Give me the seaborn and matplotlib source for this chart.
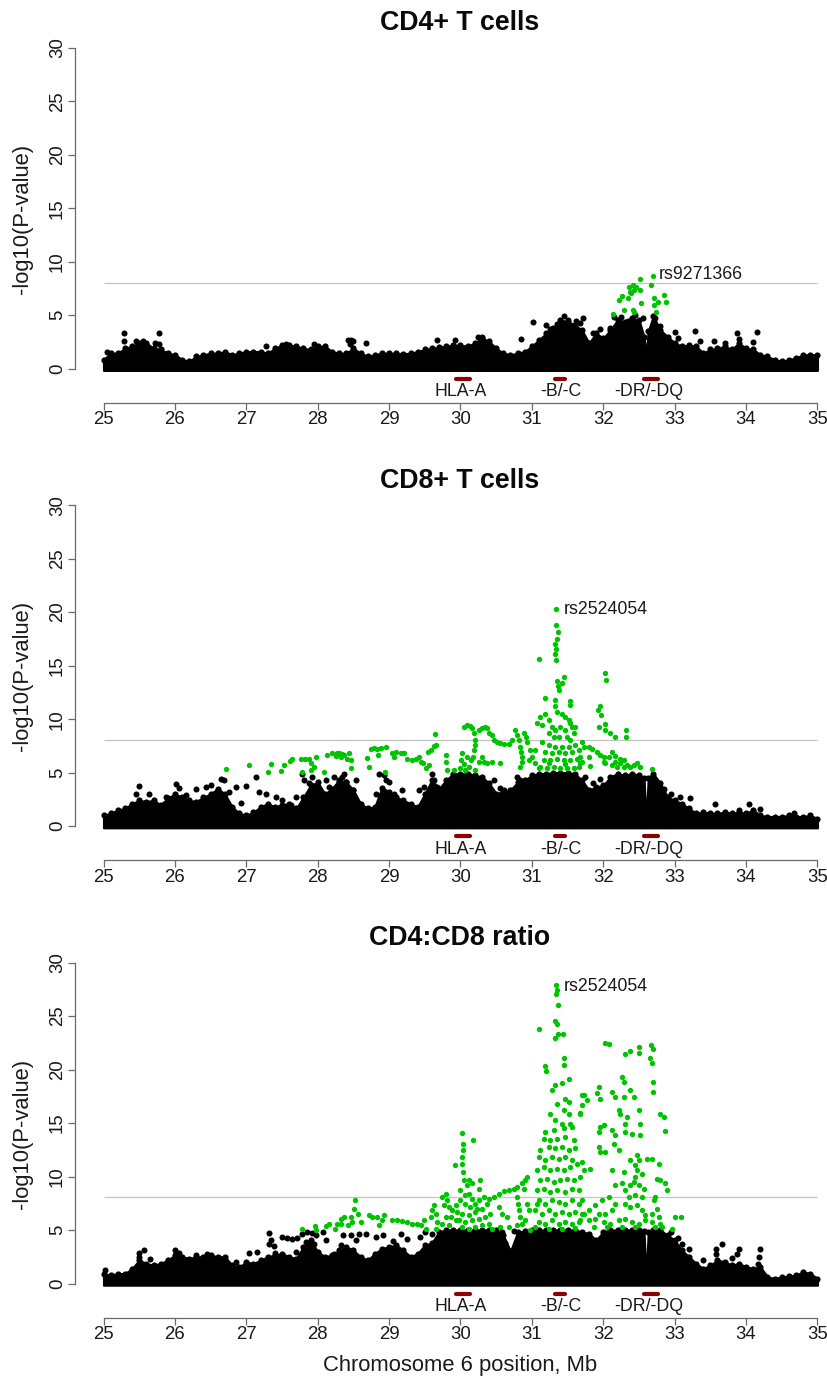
import matplotlib
matplotlib.use('Agg')
import matplotlib.pyplot as plt
import seaborn as sns

# --- data ------------------------------------------------------------------
panel_titles = ["CD4+ T cells", "CD8+ T cells", "CD4:CD8 ratio"]
x_ticks = [25, 26, 27, 28, 29, 30, 31, 32, 33, 34, 35]
y_ticks = [0, 5, 10, 15, 20, 25, 30]
threshold = 8.05

gene_names = ["HLA-A", "-B/-C", "-DR/-DQ"]
gene_start = [29.93, 31.32, 32.57]
gene_end = [30.13, 31.46, 32.77]
gene_label_x = [30.0, 31.40, 32.64]

top_snp = ["rs9271366", "rs2524054", "rs2524054"]
top_snp_x = [32.78, 31.44, 31.44]
top_snp_y = [8.85, 20.2, 27.8]

# upper edge of the dense black band of SNPs (Mb, -log10 P)
env_x = [25.0, 25.1, 25.2, 25.3, 25.4, 25.5, 25.6, 25.7, 25.8, 25.9,
         26.0, 26.1, 26.2, 26.3, 26.4, 26.5, 26.6, 26.7, 26.8, 26.9,
         27.0, 27.1, 27.2, 27.3, 27.4, 27.5, 27.6, 27.7, 27.8, 27.9,
         28.0, 28.1, 28.2, 28.3, 28.4, 28.5, 28.6, 28.7, 28.8, 28.9,
         29.0, 29.1, 29.2, 29.3, 29.4, 29.5, 29.6, 29.7, 29.8, 29.9,
         30.0, 30.1, 30.2, 30.3, 30.4, 30.5, 30.6, 30.7, 30.8, 30.9,
         31.0, 31.1, 31.2, 31.3, 31.4, 31.5, 31.6, 31.7, 31.8, 31.9,
         32.0, 32.1, 32.2, 32.3, 32.4, 32.5, 32.57, 32.6, 32.63, 32.7,
         32.8, 32.9, 33.0, 33.1, 33.2, 33.3, 33.4, 33.5, 33.6, 33.7,
         33.8, 33.9, 34.0, 34.1, 34.2, 34.3, 34.4, 34.5, 34.6, 34.7,
         34.8, 34.9, 35.0]

env_cd4 = [0.85, 1.45, 1.45, 1.9, 2.1, 2.4, 2.4, 1.9, 1.8, 1.45,
           1.3, 0.85, 0.7, 1.15, 1.3, 1.45, 1.45, 1.6, 1.3, 1.45,
           1.6, 1.6, 1.6, 1.45, 1.9, 2.2, 2.2, 2.1, 1.9, 1.8,
           2.1, 2.1, 1.6, 1.45, 1.45, 1.9, 1.45, 1.15, 1.3, 1.45,
           1.45, 1.45, 1.4, 1.45, 1.6, 1.8, 1.9, 2.0, 2.1, 2.2,
           2.2, 2.1, 2.4, 2.85, 2.55, 1.9, 1.45, 1.3, 1.45, 1.6,
           2.1, 2.7, 3.3, 3.8, 4.55, 4.4, 4.1, 3.6, 2.4, 3.3,
           2.85, 3.6, 4.55, 4.4, 4.7, 4.55, 3.0, 1.2, 3.5, 4.9,
           3.6, 3.0, 2.4, 2.1, 2.2, 2.1, 1.45, 1.8, 1.9, 2.1,
           1.8, 2.4, 1.9, 1.8, 1.3, 1.15, 0.85, 0.7, 0.85, 1.0,
           1.3, 1.3, 1.3]

env_cd8 = [1.0, 1.2, 1.5, 1.65, 2.1, 2.4, 2.3, 2.4, 2.0, 2.6,
           3.0, 2.7, 2.4, 2.3, 2.7, 3.0, 3.5, 3.0, 1.8, 1.2,
           1.0, 1.3, 1.8, 2.1, 1.8, 2.0, 2.1, 1.65, 2.7, 3.8,
           4.1, 3.0, 3.5, 4.3, 4.1, 3.35, 2.1, 1.65, 1.8, 3.6,
           3.2, 2.7, 2.4, 2.1, 1.8, 3.0, 4.3, 3.5, 4.3, 4.9,
           4.9, 4.9, 4.75, 4.6, 4.0, 3.05, 3.2, 3.35, 4.1, 4.3,
           4.75, 4.9, 4.9, 5.0, 5.0, 5.0, 4.9, 4.3, 3.35, 3.65,
           3.8, 4.6, 4.9, 4.75, 4.9, 4.75, 4.5, 0.3, 4.5, 4.9,
           4.0, 2.7, 2.4, 2.1, 1.65, 1.2, 1.3, 1.2, 1.2, 1.3,
           1.2, 1.3, 1.2, 1.5, 1.0, 0.9, 0.9, 0.9, 1.0, 0.9,
           0.9, 1.0, 0.7]

env_ratio = [0.93, 0.78, 0.93, 0.93, 1.4, 2.18, 1.87, 1.71, 1.87, 2.18,
             2.65, 2.5, 2.34, 2.5, 2.5, 2.65, 2.5, 2.5, 1.71, 1.56,
             2.0, 1.87, 2.18, 2.5, 2.65, 2.8, 2.5, 2.34, 3.43, 4.05,
             2.96, 2.5, 2.65, 3.1, 3.43, 3.1, 2.5, 2.18, 2.8, 3.27,
             3.43, 3.58, 3.1, 2.5, 2.8, 3.58, 3.8, 4.83, 5.0, 5.0,
             5.0, 5.0, 5.0, 5.0, 5.0, 5.0, 4.5, 3.0, 4.8, 4.9,
             5.0, 5.0, 5.0, 5.0, 5.0, 5.0, 5.0, 4.83, 4.67, 4.05,
             4.83, 5.0, 5.0, 5.0, 5.0, 5.0, 4.9, 0.3, 4.8, 5.0,
             5.0, 4.5, 4.05, 3.1, 2.5, 1.87, 1.4, 1.71, 2.18, 2.02,
             1.71, 1.87, 1.56, 1.4, 1.56, 0.62, 0.47, 0.62, 0.69, 0.78,
             1.09, 0.93, 0.47]

# scattered black SNPs above the dense band
black_cd4 = [(25.05, 1.6), (25.29, 3.3), (25.29, 2.6), (25.45, 2.6), (25.55, 2.6),
             (25.72, 2.4), (25.78, 3.3), (25.78, 2.3), (27.28, 2.1), (27.55, 2.3),
             (27.95, 2.3), (28.43, 2.7), (28.47, 2.7), (28.5, 2.55), (28.45, 2.3),
             (28.68, 2.4), (29.67, 2.7), (29.92, 2.7), (30.25, 3.0), (30.3, 3.0),
             (30.85, 2.75), (31.01, 4.4), (31.2, 4.1), (31.25, 3.7), (31.35, 4.2),
             (31.45, 4.9), (31.5, 4.6), (31.62, 4.5), (31.71, 4.7), (31.68, 4.3),
             (31.85, 3.3), (31.95, 3.7), (32.1, 3.8), (32.15, 4.8), (32.25, 4.8),
             (32.35, 4.5), (32.45, 5.0), (32.55, 4.7), (32.72, 4.7), (32.8, 4.0),
             (33.0, 3.4), (33.05, 2.9), (33.28, 3.5), (33.35, 2.6), (33.55, 2.6),
             (33.7, 2.4), (33.88, 3.3), (33.9, 2.8), (34.15, 3.4), (34.1, 2.5)]

black_cd8 = [(25.49, 3.74), (25.45, 3.0), (25.63, 3.05), (25.87, 2.74), (26.01, 3.93),
             (26.05, 3.6), (26.15, 2.9), (26.29, 3.43), (26.43, 3.68), (26.5, 3.83),
             (26.55, 3.05), (26.64, 4.45), (26.69, 4.3), (26.76, 3.21), (26.85, 3.68),
             (26.92, 2.12), (26.99, 3.74), (27.13, 4.61), (27.18, 3.21), (27.27, 3.05),
             (27.41, 2.74), (27.5, 2.43), (27.62, 1.96), (27.69, 2.74), (27.78, 4.92),
             (27.81, 4.3), (27.88, 3.99), (27.92, 4.61), (27.95, 3.52), (28.11, 4.3),
             (28.16, 3.68), (28.23, 4.61), (28.3, 4.14), (28.37, 4.92), (28.34, 4.61),
             (28.39, 4.14), (28.53, 4.3), (28.5, 3.36), (28.81, 3.05), (28.86, 4.92),
             (28.93, 4.77), (28.95, 4.3), (29.0, 4.14), (29.07, 3.05), (29.18, 3.36),
             (29.42, 3.36), (29.49, 3.68), (29.58, 3.68), (29.6, 4.92), (29.63, 4.3),
             (29.67, 3.68), (30.47, 4.3), (30.55, 3.6), (30.61, 3.36), (30.72, 3.36),
             (30.79, 4.61), (30.84, 4.3), (30.86, 3.68), (31.75, 4.6), (31.85, 4.0),
             (31.95, 4.4), (32.85, 3.5), (32.95, 3.0), (33.08, 2.75), (33.22, 2.6),
             (33.41, 1.1), (33.57, 2.05), (33.9, 1.5), (34.04, 2.1), (34.2, 1.6),
             (34.67, 1.2)]

black_ratio = [(25.02, 1.3), (25.5, 2.5), (25.5, 2.9), (25.57, 3.18), (25.65, 2.3),
               (26.0, 3.18), (26.05, 2.9), (26.3, 2.65), (26.45, 2.8), (26.85, 2.0),
               (27.04, 2.87), (27.15, 2.96), (27.32, 4.73), (27.35, 4.11), (27.32, 3.74),
               (27.39, 3.49), (27.4, 2.87), (27.5, 4.36), (27.57, 4.3), (27.64, 4.2),
               (27.71, 4.3), (27.69, 2.96), (27.78, 4.67), (27.85, 4.83), (27.92, 4.73),
               (27.97, 4.52), (27.83, 3.9), (27.95, 3.74), (28.07, 4.83), (28.11, 4.05),
               (28.23, 2.8), (28.33, 3.58), (28.35, 4.52), (28.47, 4.52), (28.54, 4.05),
               (28.58, 4.67), (28.68, 4.61), (28.82, 4.36), (28.91, 4.52), (29.17, 4.67),
               (29.05, 4.0), (29.25, 4.2), (29.43, 4.36), (29.5, 4.8), (29.6, 4.6),
               (30.58, 4.8), (30.62, 3.8), (30.75, 4.9), (32.95, 4.8), (33.05, 4.3),
               (33.1, 3.7), (33.2, 3.2), (33.58, 3.27), (33.58, 2.8), (33.67, 3.74),
               (33.9, 3.27), (33.88, 2.8), (34.2, 3.27), (34.18, 2.5), (34.17, 1.87),
               (33.4, 2.2), (33.8, 2.4)]

# green SNPs (P < 1e-5)
green_cd4 = [(32.13, 5.12), (32.29, 5.5), (32.42, 5.5), (32.22, 6.4), (32.34, 6.6),
             (32.39, 7.05), (32.43, 7.36), (32.36, 7.6), (32.41, 7.8), (32.38, 7.2),
             (32.46, 7.6), (32.52, 7.36), (32.51, 8.35), (32.53, 6.1), (32.67, 7.8),
             (32.70, 8.7), (32.71, 6.6), (32.71, 5.96), (32.76, 6.27), (32.85, 6.9),
             (32.88, 6.2), (32.74, 5.34), (32.43, 5.34), (32.26, 6.8)]

green_cd8 = [(26.71, 5.30), (27.04, 5.76), (27.34, 5.79), (27.31, 5.02), (27.49, 5.11),
             (27.53, 5.70), (27.61, 6.07), (27.64, 6.32), (27.76, 6.32), (27.82, 6.23),
             (27.88, 6.32), (27.97, 6.48), (27.91, 5.86), (27.95, 5.55), (27.90, 5.23),
             (27.78, 5.08), (28.09, 5.08), (28.13, 6.64), (28.20, 6.79), (28.27, 6.79),
             (28.34, 6.73), (28.32, 6.48), (28.25, 6.54), (28.30, 6.85), (28.37, 6.64),
             (28.44, 6.85), (28.46, 6.17), (28.47, 5.48), (28.41, 6.3), (28.69, 6.39),
             (28.74, 7.17), (28.79, 7.26), (28.83, 7.17), (28.88, 7.26), (28.95, 7.35),
             (28.85, 6.64), (28.72, 5.55), (28.94, 5.08), (29.04, 6.85), (29.09, 6.95),
             (29.16, 6.85), (29.21, 6.79), (29.07, 6.42), (29.25, 6.26), (29.32, 6.17),
             (29.37, 6.23), (29.42, 6.48), (29.44, 6.01), (29.47, 5.86), (29.51, 5.39),
             (29.56, 5.70), (29.55, 6.95), (29.59, 7.1), (29.63, 7.48), (29.65, 7.57),
             (29.64, 8.6), (29.80, 6.64), (29.80, 6.01), (29.81, 5.23), (29.91, 5.23),
             (30.02, 6.79), (30.01, 6.17), (30.05, 5.79), (30.09, 6.48), (29.99, 5.39),
             (30.07, 5.23), (30.12, 5.55), (30.15, 6.17), (30.21, 5.23), (30.26, 6.01),
             (30.30, 6.48), (30.33, 6.01), (30.37, 5.86), (30.44, 6.01), (30.55, 5.86),
             (30.05, 9.28), (30.09, 9.44), (30.14, 9.35), (30.16, 9.13), (30.19, 8.66),
             (30.21, 8.04), (30.20, 7.57), (30.19, 7.1), (30.17, 6.48), (30.26, 8.97),
             (30.30, 9.13), (30.35, 9.28), (30.37, 9.13), (30.40, 8.66), (30.44, 8.5),
             (30.47, 8.04), (30.51, 7.88), (30.56, 7.79), (30.61, 7.66), (30.68, 7.66),
             (30.72, 8.04), (30.76, 8.97), (30.79, 8.5), (30.82, 8.04), (30.84, 7.41),
             (30.85, 6.95), (30.86, 6.48), (30.86, 6.01), (30.84, 5.55), (30.89, 8.66),
             (30.92, 8.35), (30.93, 7.88), (30.98, 7.1), (31.00, 6.48), (31.04, 7.1),
             (30.96, 6.17), (31.05, 5.86), (31.1, 5.39),
             (31.34, 20.25), (31.34, 18.8), (31.37, 18.16), (31.35, 17.5), (31.33, 16.98),
             (31.34, 16.57), (31.33, 16.1), (31.34, 15.5), (31.10, 15.6), (31.35, 13.6),
             (31.45, 13.9), (31.42, 13.4), (31.37, 13.1), (31.38, 12.7), (31.19, 12.0),
             (31.33, 11.8), (31.53, 11.7), (31.54, 11.3), (31.12, 10.2), (31.19, 10.5),
             (31.33, 11.2), (31.35, 10.7), (31.42, 10.5), (31.47, 10.2), (31.52, 9.9),
             (31.54, 9.6), (31.56, 9.3), (31.59, 8.66), (31.07, 9.6), (31.14, 9.44),
             (31.24, 9.9), (31.28, 9.28), (31.33, 8.97), (31.40, 9.28), (31.47, 8.97),
             (31.24, 8.66), (31.31, 8.35), (31.38, 8.35), (31.49, 8.35), (31.54, 8.04),
             (31.14, 7.88), (31.24, 7.57), (31.33, 7.41), (31.42, 7.41), (31.52, 7.41),
             (31.61, 7.57), (31.19, 6.95), (31.28, 6.79), (31.38, 6.95), (31.47, 6.79),
             (31.56, 6.95), (31.66, 7.1), (31.73, 7.41), (31.17, 6.17), (31.26, 6.17),
             (31.35, 6.32), (31.45, 6.17), (31.54, 6.17), (31.63, 6.32), (31.12, 5.55),
             (31.21, 5.39), (31.31, 5.55), (31.40, 5.39), (31.49, 5.48), (31.59, 5.39),
             (31.68, 5.86), (31.24, 5.86), (31.47, 5.79),
             (32.02, 14.33), (32.04, 13.7), (31.95, 11.2), (31.93, 10.9), (31.97, 10.4),
             (31.94, 9.28), (32.02, 9.53), (32.02, 8.97), (32.10, 8.66), (32.17, 8.29),
             (32.32, 8.97), (32.32, 8.29), (31.61, 9.28), (31.70, 7.88), (31.80, 7.41),
             (31.84, 7.17), (31.91, 6.95), (31.96, 6.64), (32.01, 6.48), (32.08, 6.48),
             (32.12, 6.95), (32.17, 6.54), (32.24, 6.32), (32.29, 6.17), (31.68, 6.48),
             (31.70, 6.01), (31.66, 5.55), (31.82, 5.61), (31.80, 6.48), (32.01, 6.01),
             (32.03, 5.86), (32.12, 5.70), (32.19, 5.55), (32.29, 5.55), (32.38, 5.55),
             (32.47, 5.86), (32.52, 5.55), (32.43, 5.70), (32.68, 5.30), (32.17, 6.01),
             (32.24, 5.86), (32.33, 5.70)]

green_ratio = [(27.78, 5.14), (27.96, 5.39), (27.97, 5.05), (28.12, 5.39), (28.16, 5.55),
               (28.24, 5.14), (28.27, 5.55), (28.32, 6.07), (28.37, 6.23), (28.56, 6.54),
               (28.61, 5.76), (28.42, 5.45),
               (28.32, 5.61), (28.46, 6.23), (28.51, 7.0), (28.52, 7.79), (28.48, 5.76),
               (28.72, 6.39), (28.76, 6.23), (28.83, 6.23), (28.93, 6.39), (28.90, 5.92),
               (28.86, 5.45), (29.04, 5.92), (29.11, 5.92), (29.18, 5.86), (29.25, 5.76),
               (29.32, 5.61), (29.39, 5.55), (29.45, 5.45), (29.49, 5.92), (29.51, 5.14),
               (29.58, 6.23), (29.60, 6.85), (29.63, 7.32), (29.65, 6.54), (29.67, 5.76),
               (29.65, 5.14), (29.74, 8.1), (29.79, 8.41), (29.81, 7.79), (29.77, 7.32),
               (29.84, 7.17), (29.88, 6.85), (29.86, 6.23), (29.79, 6.23), (29.74, 5.61),
               (29.84, 5.45), (29.93, 5.92), (29.92, 11.06), (30.02, 14.08), (30.04, 13.08),
               (30.03, 12.46), (30.02, 11.84), (30.02, 11.21), (30.03, 10.44), (30.17, 13.46),
               (30.05, 9.66), (30.12, 9.66), (30.09, 9.19), (30.16, 9.35), (30.28, 9.66),
               (30.26, 8.88), (30.0, 8.72), (30.07, 8.26), (30.12, 8.41), (30.16, 7.94),
               (30.0, 7.79), (30.07, 7.48), (30.14, 7.17), (30.21, 7.48), (30.26, 7.79),
               (30.33, 8.1), (29.93, 7.32), (29.95, 6.7), (30.02, 6.54), (30.12, 6.39),
               (30.21, 6.7), (30.30, 7.0), (30.37, 7.48), (30.40, 7.94), (29.98, 5.92),
               (30.07, 5.76), (30.16, 5.92), (30.26, 6.07), (30.35, 6.23), (30.42, 6.54),
               (30.02, 5.3), (30.12, 5.14), (30.21, 5.3), (30.30, 5.45), (30.40, 5.61),
               (30.44, 5.14), (30.23, 7.0), (30.47, 8.1), (30.54, 8.41), (30.61, 8.66),
               (30.68, 8.72), (30.75, 8.88), (30.79, 9.03), (30.86, 9.35), (30.91, 9.66),
               (30.93, 9.97), (30.89, 8.8), (30.54, 7.17), (30.58, 6.54), (30.56, 5.3),
               (30.65, 6.23), (30.68, 5.3), (30.79, 8.1), (30.81, 7.48), (30.82, 6.85),
               (30.84, 6.23), (30.86, 5.61), (30.79, 5.45), (30.93, 7.48), (30.96, 6.85),
               (30.9, 5.92), (30.98, 5.0), (31.05, 6.85), (31.07, 7.48),
               (31.34, 27.88), (31.35, 27.41), (31.34, 27.1), (31.37, 26.0), (31.33, 24.55),
               (31.35, 24.24), (31.37, 23.36), (31.33, 22.99), (31.43, 23.3), (31.10, 23.77),
               (31.45, 21.03), (31.45, 20.4), (31.19, 20.31), (31.2, 19.88), (31.52, 19.16),
               (31.33, 18.54), (31.42, 18.75), (31.28, 18.07), (31.70, 17.6), (31.47, 17.29),
               (31.52, 16.98), (31.35, 16.76), (31.45, 16.2), (31.26, 15.89), (31.52, 15.89),
               (31.68, 15.95), (31.33, 15.26), (31.54, 14.95), (31.42, 14.95), (31.19, 14.17),
               (31.31, 14.33), (31.45, 14.49), (31.56, 14.64), (31.17, 13.55), (31.26, 13.4),
               (31.35, 13.55), (31.47, 13.71), (31.59, 13.4), (31.12, 12.46), (31.24, 12.77),
               (31.33, 12.62), (31.42, 12.77), (31.52, 12.46), (31.61, 12.62), (31.1, 11.84),
               (31.19, 11.53), (31.28, 11.84), (31.38, 11.68), (31.47, 11.84), (31.56, 11.53),
               (31.63, 11.21), (31.07, 10.59), (31.17, 10.9), (31.26, 10.59), (31.35, 10.75),
               (31.45, 10.59), (31.54, 10.9), (31.12, 9.66), (31.21, 9.81), (31.31, 9.5),
               (31.40, 9.66), (31.49, 9.81), (31.59, 9.66), (31.68, 9.97), (31.07, 8.72),
               (31.17, 8.88), (31.26, 8.57), (31.35, 8.72), (31.47, 8.57), (31.56, 8.88),
               (31.66, 8.72), (31.1, 7.79), (31.19, 7.48), (31.28, 7.79), (31.38, 7.63),
               (31.47, 7.48), (31.56, 7.79), (31.70, 7.79), (31.14, 6.54), (31.24, 6.85),
               (31.33, 6.54), (31.42, 6.7), (31.52, 6.54), (31.61, 6.7), (31.73, 6.54),
               (31.1, 5.76), (31.19, 5.61), (31.28, 5.92), (31.38, 5.61), (31.47, 5.76),
               (31.56, 5.61), (31.66, 5.76), (31.05, 5.3), (31.24, 5.14), (31.42, 5.14),
               (31.61, 5.23),
               (32.03, 22.49), (32.08, 22.37), (32.31, 21.43), (32.38, 21.74), (32.50, 22.06),
               (32.50, 21.56), (32.67, 22.27), (32.69, 21.96), (32.66, 21.03), (32.68, 20.62),
               (32.26, 19.31), (32.29, 18.85), (32.69, 18.85), (32.69, 17.91), (31.94, 18.38),
               (31.91, 17.76), (31.96, 17.29), (32.12, 17.91), (32.17, 17.45), (32.29, 17.45),
               (32.38, 18.07), (32.43, 17.45), (31.73, 17.6), (31.70, 16.67), (31.77, 17.13),
               (31.68, 15.89), (32.22, 16.26), (32.24, 15.89), (32.33, 15.58), (32.50, 16.26),
               (32.31, 14.95), (32.52, 14.95), (32.80, 15.83), (32.85, 15.58), (32.86, 14.27),
               (31.96, 14.64), (32.01, 14.8), (31.94, 14.17), (32.12, 14.33), (32.17, 13.86),
               (32.31, 14.17), (32.40, 14.0), (32.52, 13.86), (31.94, 12.77), (31.96, 12.31),
               (32.03, 12.31), (32.15, 13.08), (32.22, 12.46), (32.47, 11.99), (32.50, 11.53),
               (32.38, 11.53), (32.45, 11.06), (32.61, 11.68), (32.68, 11.68), (32.78, 11.21),
               (31.70, 11.37), (31.82, 10.75), (31.73, 10.59), (32.12, 10.65), (32.29, 10.44),
               (32.47, 10.59), (32.45, 9.97), (32.54, 10.28), (32.75, 9.81), (32.80, 9.66),
               (32.87, 9.35), (32.89, 8.72), (32.17, 9.19), (32.26, 9.35), (32.31, 8.72),
               (32.38, 9.19), (32.43, 9.5), (32.50, 9.19), (32.57, 8.88), (32.36, 8.1),
               (32.45, 8.26), (32.54, 8.1), (32.73, 8.1), (32.71, 7.79), (32.08, 8.1),
               (31.98, 7.79), (31.89, 7.32), (32.31, 7.48), (32.38, 7.17), (32.47, 7.32),
               (32.54, 6.85), (32.59, 6.39), (32.68, 6.54), (32.75, 7.0), (32.78, 6.23),
               (32.17, 7.48), (32.12, 6.85), (32.03, 6.54), (31.94, 6.54), (31.80, 6.85),
               (31.70, 6.54), (31.66, 7.48), (31.68, 5.92), (31.80, 5.92), (31.89, 6.07),
               (32.01, 5.76), (32.10, 5.61), (32.22, 5.92), (32.31, 6.07), (32.40, 5.76),
               (32.50, 5.61), (32.59, 5.92), (32.68, 5.76), (32.80, 5.61), (32.82, 5.3),
               (32.73, 5.3), (31.87, 5.3), (32.05, 5.3), (32.26, 5.3), (32.45, 5.3),
               (33.01, 6.23), (33.09, 6.23), (32.96, 5.14)]

envelopes = [env_cd4, env_cd8, env_ratio]
black_pts = [black_cd4, black_cd8, black_ratio]
green_pts = [green_cd4, green_cd8, green_ratio]

# --- layout (pixel geometry of the original page) --------------------------
W, H = 828, 1379
sns.set_style("white")
plt.rcParams['font.family'] = ['Liberation Sans', 'DejaVu Sans']

fig = plt.figure(figsize=(W / 100, H / 100), dpi=100)

axis_grey = '#6a6a6a'
black = '#000000'
green = '#00c400'
dark_red = '#8b0000'

for i in range(3):
    base = 403 + 457.4 * i          # pixel row of the x axis line
    ax = fig.add_axes([75 / W, 1 - base / H, 771 / W, 366 / H])
    ax.set_xlim(24.6, 35.4)
    ax.set_ylim(-3.2, 31.0)

    # dense band of SNPs, with a dot at every sampled edge point
    env = envelopes[i]
    ax.fill_between(env_x, -0.15, env, facecolor=black,
                    edgecolor=black, linewidth=1.6, joinstyle='round', zorder=2)
    sns.scatterplot(x=env_x, y=env, ax=ax, color=black, s=20, linewidth=0, zorder=3)
    bx = [p[0] for p in black_pts[i]]
    by = [p[1] for p in black_pts[i]]
    sns.scatterplot(x=bx, y=by, ax=ax, color=black, s=19, linewidth=0, zorder=3)
    gx = [p[0] for p in green_pts[i]]
    gy = [p[1] for p in green_pts[i]]
    sns.scatterplot(x=gx, y=gy, ax=ax, color=green, s=15, linewidth=0, zorder=4)

    ax.hlines(threshold, 25, 35, color='#c4c4c4', linewidth=0.9, zorder=1)

    for name, g0, g1, gl in zip(gene_names, gene_start, gene_end, gene_label_x):
        ax.plot([g0, g1], [-0.96, -0.96], color=dark_red, linewidth=3.0,
                solid_capstyle='round', zorder=3)
        ax.text(gl, -2.15, name, ha='center', va='center', fontsize=12.8,
                color='#1a1a1a')

    ax.text(top_snp_x[i], top_snp_y[i], top_snp[i], ha='left', va='center',
            fontsize=12.8, color='#1a1a1a')

    for side in ['top', 'right']:
        ax.spines[side].set_visible(False)
    ax.spines['left'].set_bounds(0, 30)
    ax.spines['bottom'].set_bounds(25, 35)
    for side in ['left', 'bottom']:
        ax.spines[side].set_color(axis_grey)
        ax.spines[side].set_linewidth(0.9)

    ax.set_xticks(x_ticks)
    ax.set_yticks(y_ticks)
    ax.set_xticklabels([str(t) for t in x_ticks])
    ax.set_yticklabels([str(t) for t in y_ticks])
    ax.tick_params(axis='both', direction='out', length=5, width=0.9,
                   color=axis_grey, labelsize=13.4, labelcolor='#1a1a1a',
                   left=True, bottom=True)
    ax.tick_params(axis='x', pad=1.0)
    ax.tick_params(axis='y', pad=1.5, labelrotation=90)
    for lbl in ax.get_yticklabels():
        lbl.set_va('center')
    ax.set_xlabel('')
    ax.set_ylabel('')

    fig.text(460 / W, 1 - (base - 379.5) / H, panel_titles[i], ha='center',
             va='center', fontsize=19.3, fontweight='bold', color='#0a0a0a')
    fig.text(23 / W, 1 - (base - 184) / H, '-log10(P-value)', rotation=90,
             ha='center', va='center', fontsize=15.8, color='#1a1a1a')

fig.text(460 / W, 1 - 1365 / H, 'Chromosome 6 position, Mb', ha='center',
         va='center', fontsize=15.8, color='#1a1a1a')

fig.savefig('out.png', dpi=100)
